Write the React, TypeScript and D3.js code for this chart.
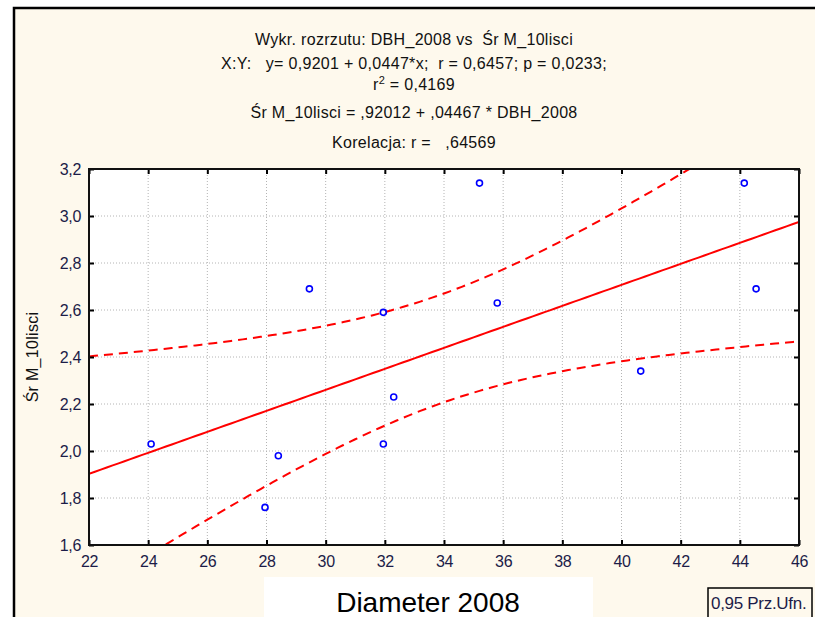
import React, { useEffect, useRef } from 'react';
import * as d3 from 'd3';

// DBH_2008 (x) vs Śr M_10lisci (y)
const dbh = [24.1, 27.95, 28.4, 29.45, 31.95, 32.3, 31.95, 35.2, 35.8, 40.65, 44.15, 44.55];
const leafMass = [2.03, 1.76, 1.98, 2.69, 2.59, 2.23, 2.03, 3.14, 2.63, 2.34, 3.14, 2.69];

const xTicks = [22, 24, 26, 28, 30, 32, 34, 36, 38, 40, 42, 44, 46];
const yTicks = [1.6, 1.8, 2.0, 2.2, 2.4, 2.6, 2.8, 3.0, 3.2];

// fit printed in the header
const INTERCEPT = 0.92012;
const SLOPE = 0.04467;
const T_CRIT = 2.228; // t(0.975, df = 10)

const titleLines = [
  'Wykr. rozrzutu: DBH_2008 vs  Śr M_10lisci',
  'X:Y:   y= 0,9201 + 0,0447*x;  r = 0,6457; p = 0,0233;',
  'r2 = 0,4169',
  'Śr M_10lisci = ,92012 + ,04467 * DBH_2008',
  'Korelacja: r =   ,64569',
];
const titleBaselines = [45, 69, 90, 118, 148];

const FONT = "'Liberation Sans', Arial, sans-serif";

export default function App() {
  const svgRef = useRef(null);

  useEffect(() => {
    if (!svgRef.current) return;
    document.body.style.margin = '0';
    document.body.style.overflow = 'hidden';

    const width = 815;
    const height = 617;
    const plot = { left: 89, right: 799, top: 169, bottom: 545 };

    d3.select(svgRef.current).selectAll('*').remove();
    const svg = d3.select(svgRef.current).attr('width', width).attr('height', height);

    const x = d3.scaleLinear().domain([22, 46]).range([plot.left, plot.right]);
    const y = d3.scaleLinear().domain([1.6, 3.2]).range([plot.bottom, plot.top]);
    const locale = d3.formatLocale({ decimal: ',', thousands: ' ', grouping: [3], currency: ['', ''] });
    const fmt = locale.format('.1f');

    // page + panel (only the top and left edges of the frame are in view)
    svg.append('rect').attr('width', width).attr('height', height).attr('fill', '#ffffff');
    svg.append('rect')
      .attr('x', 14).attr('y', 8).attr('width', width - 14).attr('height', height - 8)
      .attr('fill', '#fef9ed');
    svg.append('path')
      .attr('d', `M14,${height}V8H${width}`)
      .attr('fill', 'none').attr('stroke', '#000').attr('stroke-width', 2.5);

    // header
    const title = svg.append('g').attr('font-family', FONT).attr('font-size', 16)
      .attr('fill', '#111').attr('text-anchor', 'middle');
    titleLines.forEach((line, i) => {
      const t = title.append('text').attr('x', 414).attr('y', titleBaselines[i])
        .attr('letter-spacing', 0.3).style('white-space', 'pre');
      if (line.startsWith('r2')) {
        t.append('tspan').text('r');
        t.append('tspan').attr('dy', -6).attr('font-size', 11).text('2');
        t.append('tspan').attr('dy', 6).text(line.slice(2));
      } else {
        t.text(line);
      }
    });

    // plot area
    svg.append('rect')
      .attr('x', plot.left).attr('y', plot.top)
      .attr('width', plot.right - plot.left).attr('height', plot.bottom - plot.top)
      .attr('fill', '#fff');

    svg.append('defs').append('clipPath').attr('id', 'plot-clip')
      .append('rect')
      .attr('x', plot.left).attr('y', plot.top)
      .attr('width', plot.right - plot.left).attr('height', plot.bottom - plot.top);

    const grid = svg.append('g').attr('stroke', '#b4b4b4').attr('stroke-dasharray', '1,2');
    grid.selectAll('.vx').data(xTicks.slice(1, -1)).enter().append('line')
      .attr('x1', d => x(d)).attr('x2', d => x(d))
      .attr('y1', plot.top).attr('y2', plot.bottom);
    grid.selectAll('.hy').data(yTicks.slice(1, -1)).enter().append('line')
      .attr('x1', plot.left).attr('x2', plot.right)
      .attr('y1', d => y(d)).attr('y2', d => y(d));

    // regression + 95% band
    const n = dbh.length;
    const xm = d3.mean(dbh);
    const sxx = d3.sum(dbh, d => (d - xm) ** 2);
    const sse = d3.sum(dbh, (d, i) => (leafMass[i] - (INTERCEPT + SLOPE * d)) ** 2);
    const s = Math.sqrt(sse / (n - 2));
    const fit = v => INTERCEPT + SLOPE * v;
    const half = v => T_CRIT * s * Math.sqrt(1 / n + (v - xm) ** 2 / sxx);
    const xs = d3.range(22, 46.001, 0.2);

    const clip = svg.append('g').attr('clip-path', 'url(#plot-clip)');
    const line = d3.line().x(d => x(d[0])).y(d => y(d[1]));

    clip.append('path')
      .attr('d', line(xs.map(v => [v, fit(v)])))
      .attr('fill', 'none').attr('stroke', '#ff0000').attr('stroke-width', 2);
    [1, -1].forEach(sign => {
      clip.append('path')
        .attr('d', line(xs.map(v => [v, fit(v) + sign * half(v)])))
        .attr('fill', 'none').attr('stroke', '#ff0000').attr('stroke-width', 2)
        .attr('stroke-dasharray', '9,6');
    });

    svg.append('g').selectAll('circle')
      .data(dbh.map((d, i) => [d, leafMass[i]]))
      .enter()
      .append('circle')
      .attr('cx', d => x(d[0]))
      .attr('cy', d => y(d[1]))
      .attr('r', 3)
      .attr('fill', 'none')
      .attr('stroke', '#0000ff')
      .attr('stroke-width', 1.6);

    // axes, ticks pointing inward
    const bottom = svg.append('g').attr('transform', `translate(0,${plot.bottom})`)
      .call(d3.axisBottom(x).tickValues(xTicks).tickFormat(d3.format('d')).tickSize(-5).tickPadding(11));
    const left = svg.append('g').attr('transform', `translate(${plot.left},0)`)
      .call(d3.axisLeft(y).tickValues(yTicks).tickFormat(fmt).tickSize(-5).tickPadding(8));
    svg.append('g').attr('transform', `translate(0,${plot.top})`)
      .call(d3.axisTop(x).tickValues(xTicks).tickFormat(() => '').tickSize(-5));
    svg.append('g').attr('transform', `translate(${plot.right},0)`)
      .call(d3.axisRight(y).tickValues(yTicks).tickFormat(() => '').tickSize(-5));

    svg.selectAll('.domain').remove();
    svg.selectAll('.tick line').attr('stroke', '#000').attr('stroke-width', 2);
    [bottom, left].forEach(g => g.selectAll('text')
      .attr('font-family', FONT).attr('font-size', 16)
      .attr('fill', '#1c1c48').attr('letter-spacing', -0.3));

    svg.append('rect')
      .attr('x', plot.left).attr('y', plot.top)
      .attr('width', plot.right - plot.left).attr('height', plot.bottom - plot.top)
      .attr('fill', 'none').attr('stroke', '#111').attr('stroke-width', 2);

    svg.append('text')
      .attr('transform', `translate(38,${(plot.top + plot.bottom) / 2}) rotate(-90)`)
      .attr('text-anchor', 'middle')
      .attr('font-family', FONT).attr('font-size', 16).attr('letter-spacing', 0.3)
      .attr('fill', '#111')
      .style('white-space', 'pre')
      .text('Śr M_10lisci');

    // overlaid x-axis caption
    svg.append('rect').attr('x', 264).attr('y', 577).attr('width', 329).attr('height', 45).attr('fill', '#fff');
    svg.append('text')
      .attr('x', 428).attr('y', 612)
      .attr('text-anchor', 'middle')
      .attr('font-family', FONT).attr('font-size', 28)
      .attr('fill', '#000')
      .text('Diameter 2008');

    // legend
    svg.append('rect')
      .attr('x', 708).attr('y', 588).attr('width', 104).attr('height', 40)
      .attr('fill', '#fef9ed').attr('stroke', '#000').attr('stroke-width', 1.5);
    svg.append('text')
      .attr('x', 711).attr('y', 609)
      .attr('font-family', FONT).attr('font-size', 17).attr('letter-spacing', -0.3)
      .attr('fill', '#1c1c48')
      .text('0,95 Prz.Ufn.');
  }, []);

  return (
    <div>
      <svg ref={svgRef} style={{ display: 'block' }}></svg>
    </div>
  );
}
